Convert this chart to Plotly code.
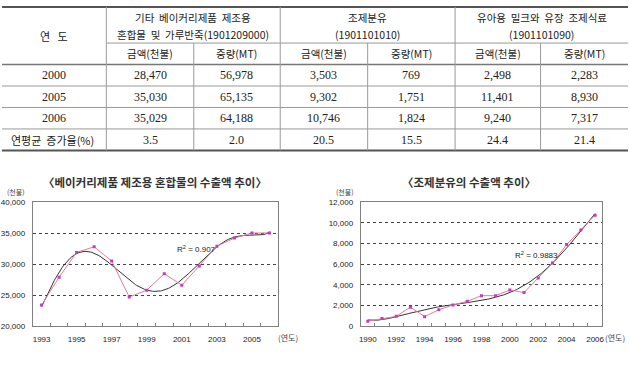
import numpy as np
import plotly.graph_objects as go

W, H = 630, 378

# ---------------- table data ----------------
year_col_title = "연&nbsp;&nbsp;&nbsp;도"
group_line1 = ["기타&nbsp;&nbsp;베이커리제품&nbsp;&nbsp;제조용", "조제분유", "유아용&nbsp;&nbsp;밀크와&nbsp;&nbsp;유장&nbsp;&nbsp;조제식료"]
group_line2 = ["혼합물&nbsp;&nbsp;및&nbsp;&nbsp;가루반죽(1901209000)", "(1901101010)", "(1901101090)"]
sub_headers = ["금액(천불)", "중량(MT)"]
row_labels = ["2000", "2005", "2006", "연평균&nbsp;&nbsp;증가율(%)"]
bakery_amount = [28470, 35030, 35029]
bakery_weight = [56978, 65135, 64188]
formula_amount = [3503, 9302, 10746]
formula_weight = [769, 1751, 1824]
whey_amount = [2498, 11401, 9240]
whey_weight = [2283, 8930, 7317]
growth_rates = ["3.5", "2.0", "20.5", "15.5", "24.4", "21.4"]

# ---------------- chart data ----------------
chart_titles = ["〈베이커리제품&nbsp;제조용&nbsp;혼합물의&nbsp;수출액&nbsp;추이〉", "〈조제분유의&nbsp;수출액&nbsp;추이〉"]
years1 = list(range(1993, 2007))
bakery_export = [23400, 27900, 31900, 32800, 30500, 24700, 25800, 28470,
                 26600, 29700, 32900, 34200, 35030, 35029]
years2 = list(range(1990, 2007))
formula_export = [480, 730, 950, 1840, 920, 1590, 2050, 2400, 2950, 2950,
                  3503, 3250, 4650, 6100, 7900, 9302, 10746]
r2_labels = [0.907, 0.9883]

KR = "Noto Sans CJK KR"
SERIF = "Liberation Serif"

def px(x):
    return x / W

def py(y):
    return 1 - y / H

fig = go.Figure()
shapes = []
ann = []

def hline(y, x0, x1, w=1, c="#9a9a9a"):
    shapes.append(dict(type="line", xref="paper", yref="paper", x0=px(x0), x1=px(x1),
                       y0=py(y), y1=py(y), line=dict(color=c, width=w)))

def vline(x, y0, y1, w=1, c="#9a9a9a"):
    shapes.append(dict(type="line", xref="paper", yref="paper", x0=px(x), x1=px(x),
                       y0=py(y0), y1=py(y1), line=dict(color=c, width=w)))

def text(x, y, s, size=10.5, family=KR, color="#222", xanchor="center"):
    ann.append(dict(x=px(x), y=py(y), xref="paper", yref="paper", text=s, showarrow=False,
                    xanchor=xanchor, yanchor="middle", font=dict(size=size, family=family, color=color)))

# table geometry (layout only)
col_edges = [0, 105, 193, 280, 368, 456, 542, 630]
row_y = [3, 40, 62, 84, 106, 128, 150]

hline(row_y[0], 0, 630, 2, "#555")
hline(row_y[1], 105, 630)
hline(row_y[2], 0, 630, 1.5, "#777")
for y in row_y[3:6]:
    hline(y, 0, 630)
hline(row_y[6], 0, 630, 2, "#555")
for i, x in enumerate(col_edges[1:-1]):
    if i % 2 == 0:
        vline(x, row_y[0], row_y[6])
    else:
        vline(x, row_y[1], row_y[6])

text(52, 33, year_col_title, size=11)
for g in range(3):
    cx = (col_edges[1 + 2 * g] + col_edges[3 + 2 * g]) / 2
    text(cx, 14, group_line1[g], size=10.5)
    text(cx, 31, group_line2[g], size=10.5)
    for k in range(2):
        sx = (col_edges[1 + 2 * g + k] + col_edges[2 + 2 * g + k]) / 2
        text(sx, 51, sub_headers[k], size=10.5)

columns = [bakery_amount, bakery_weight, formula_amount, formula_weight, whey_amount, whey_weight]
for r in range(4):
    cy = (row_y[2 + r] + row_y[3 + r]) / 2
    if r < 3:
        text(52, cy, row_labels[r], size=12, family=SERIF)
    else:
        text(51, cy, row_labels[r], size=11)
    for c in range(6):
        sx = (col_edges[1 + c] + col_edges[2 + c]) / 2
        val = f"{columns[c][r]:,}" if r < 3 else growth_rates[c]
        text(sx, cy, val, size=12, family=SERIF)

# ---------------- charts ----------------
def trend(years, vals, target):
    xs = np.arange(1, len(vals) + 1)
    best = None
    for d in range(2, 7):
        p = np.polyfit(xs, vals, d)
        fit = np.polyval(p, xs)
        r2 = 1 - np.sum((np.array(vals) - fit) ** 2) / np.sum((np.array(vals) - np.mean(vals)) ** 2)
        if best is None or abs(r2 - target) < best[0]:
            best = (abs(r2 - target), p)
    fx = np.linspace(1, len(vals), 200)
    return years[0] - 1 + fx, np.polyval(best[1], fx)

series = [(years1, bakery_export, "x", "y"), (years2, formula_export, "x2", "y2")]
for i, (yrs, vals, xa, ya) in enumerate(series):
    tx, ty = trend(yrs, vals, r2_labels[i])
    fig.add_trace(go.Scatter(x=tx, y=ty, mode="lines", line=dict(color="#333333", width=1),
                             xaxis=xa, yaxis=ya, showlegend=False, hoverinfo="skip"))
    fig.add_trace(go.Scatter(x=yrs, y=vals, mode="lines+markers",
                             line=dict(color="#E8789E", width=1),
                             marker=dict(symbol="square", size=3, color="#C23CC0"),
                             xaxis=xa, yaxis=ya, showlegend=False))

ydom = [py(330), py(203)]
tickfont = dict(size=8, family="Liberation Sans", color="#222")

def xaxis_cfg(dom, yrs, anchor):
    return dict(domain=dom, anchor=anchor, range=[yrs[0] - 0.5, yrs[-1] + 0.5],
                tickmode="array", tickvals=yrs[::2], ticks="", showgrid=False,
                showline=True, mirror=True, linecolor="#808080", linewidth=1,
                tickfont=tickfont, ticklabelstandoff=5, zeroline=False,
                minor=dict(tickmode="array", tickvals=[v - 0.5 for v in yrs[1:]],
                           ticks="inside", ticklen=3, tickcolor="#808080", showgrid=False))

def yaxis_cfg(rng, dt, anchor):
    return dict(domain=ydom, anchor=anchor, range=rng, dtick=dt, tick0=0, tickformat=",",
                showgrid=True, gridcolor="#444", griddash="dot", gridwidth=1,
                showline=True, mirror=True, linecolor="#808080", linewidth=1,
                zeroline=False, tickfont=tickfont, ticklabelstandoff=5, ticks="")

fig.update_layout(
    xaxis=xaxis_cfg([px(31), px(278)], years1, "y"),
    yaxis=yaxis_cfg([20000, 40000], 5000, "x"),
    xaxis2=xaxis_cfg([px(361), px(604)], years2, "y2"),
    yaxis2=yaxis_cfg([0, 12000], 2000, "x2"),
)

# chart titles and labels
text(154, 182, "<b>" + chart_titles[0] + "</b>", size=11.5, color="#333")
text(470, 182, "<b>" + chart_titles[1] + "</b>", size=11.5, color="#333")
text(14, 193, "(천불)", size=7, color="#444")
text(345, 193, "(천불)", size=7, color="#444")
text(288, 342, "(연도)", size=8, color="#444")
text(617, 342, "(연도)", size=8, color="#444")

ann.append(dict(x=2000.6, y=32400, xref="x", yref="y", text=f"R<sup>2</sup> = {r2_labels[0]}",
                showarrow=False, xanchor="left", yanchor="middle",
                font=dict(size=8, family="Liberation Sans", color="#222")))
ann.append(dict(x=2000.2, y=6900, xref="x2", yref="y2", text=f"R<sup>2</sup> = {r2_labels[1]}",
                showarrow=False, xanchor="left", yanchor="middle",
                font=dict(size=8, family="Liberation Sans", color="#222")))

fig.update_layout(
    width=W, height=H, margin=dict(l=0, r=0, t=0, b=0),
    paper_bgcolor="white", plot_bgcolor="white",
    shapes=shapes, annotations=ann, showlegend=False,
)

fig.write_html("out.html")
